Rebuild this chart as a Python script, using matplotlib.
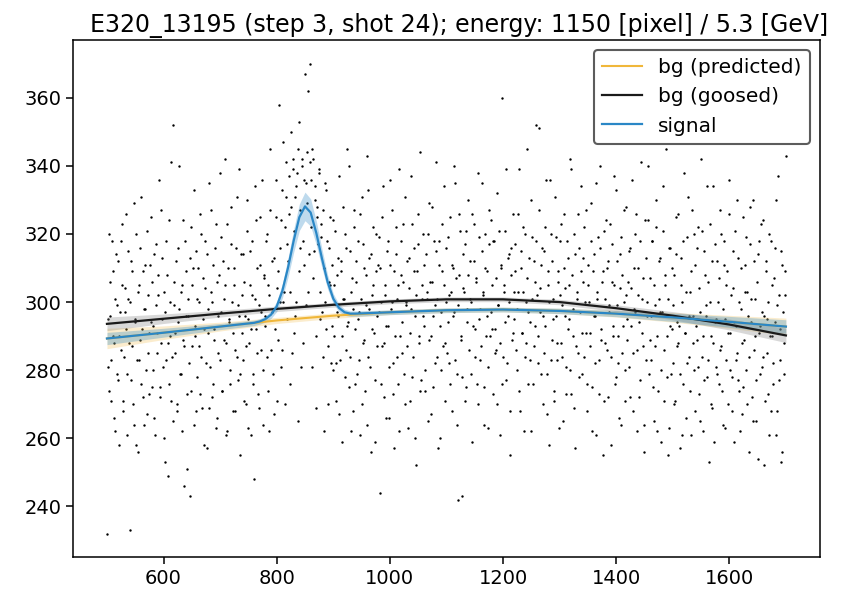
import numpy as np
import matplotlib
matplotlib.use("Agg")
import matplotlib.pyplot as plt

TITLE = "E320_13195 (step 3, shot 24); energy: 1150 [pixel] / 5.3 [GeV]"

# scatter: one point per pixel, even pixels 500..1700 and odd pixels 501..1699
x_even = np.arange(500, 1701, 2)
y_even = [
    232, 281, 320, 296, 271, 309, 288, 262, 314, 299, 277, 290, 318, 305, 268, 284, 297, 326, 279, 301,
    233, 312, 287, 270, 329, 295, 258, 303, 283, 316, 276, 292, 309, 264, 298, 321, 285, 273, 311, 294,
    306, 280, 266, 317, 291, 302, 336, 275, 288, 313, 260, 297, 283, 308, 249, 324, 290, 271, 352, 299,
    285, 312, 268, 294, 340, 279, 305, 289, 246, 318, 296, 273, 301, 243, 322, 287, 310, 264, 293, 315,
    278, 300, 326, 284, 269, 307, 292, 318, 257, 298, 335, 281, 303, 272, 311, 289, 323, 266, 296, 308,
    283, 319, 274, 301, 342, 288, 262, 310, 295, 276, 328, 291, 305, 268, 316, 284, 299, 339, 279, 302,
    314, 271, 296, 287, 330, 263, 305, 292, 318, 276, 248, 301, 324, 285, 269, 311, 297, 336, 280, 308,
    293, 320, 274, 302, 345, 286, 312, 298, 267, 325, 304, 289, 358, 316, 281, 333, 300, 322, 341, 295,
    312, 337, 276, 328, 342, 291, 331, 300, 338, 265, 353, 316, 340, 288, 311, 367, 335, 344, 303, 370,
    336, 281, 342, 315, 330, 269, 325, 338, 303, 319, 297, 327, 262, 300, 333, 287, 316, 305, 282, 311,
    324, 290, 271, 308, 296, 337, 283, 312, 259, 301, 320, 286, 345, 294, 275, 315, 303, 268, 327, 292,
    306, 279, 318, 297, 261, 331, 288, 310, 274, 299, 343, 284, 313, 256, 302, 322, 291, 277, 309, 296,
    319, 244, 300, 287, 334, 272, 305, 293, 318, 266, 311, 298, 327, 282, 257, 314, 301, 276, 339, 290,
    308, 285, 323, 270, 299, 312, 263, 304, 291, 337, 278, 316, 296, 252, 309, 326, 288, 274, 301, 320,
    293, 280, 314, 301, 265, 329, 290, 306, 275, 318, 299, 341, 284, 311, 260, 297, 323, 287, 305, 271,
    316, 294, 282, 325, 303, 268, 310, 297, 335, 279, 242, 308, 321, 289, 243, 304, 317, 275, 298, 330,
    286, 312, 300, 259, 323, 292, 307, 276, 338, 295, 283, 315, 302, 264, 320, 290, 309, 281, 327, 297,
    305, 273, 318, 292, 286, 332, 299, 261, 311, 360, 284, 303, 321, 277, 296, 314, 255, 308, 289, 326,
    295, 317, 280, 303, 339, 268, 310, 291, 322, 284, 300, 345, 276, 313, 294, 262, 319, 287, 306, 352,
    302, 282, 327, 297, 311, 270, 315, 293, 336, 279, 305, 258, 320, 289, 301, 274, 331, 296, 283, 309,
    318, 288, 299, 265, 326, 304, 281, 313, 295, 342, 273, 308, 290, 320, 257, 301, 285, 316, 297, 334,
    279, 306, 322, 291, 268, 311, 300, 287, 329, 275, 314, 296, 261, 303, 319, 283, 340, 292, 309, 271,
    301, 324, 286, 312, 297, 258, 317, 290, 305, 276, 333, 299, 282, 314, 264, 308, 293, 327, 280, 302,
    289, 315, 272, 304, 336, 285, 298, 320, 262, 310, 294, 277, 341, 301, 287, 256, 313, 296, 324, 279,
    307, 283, 318, 265, 299, 330, 290, 274, 312, 297, 259, 321, 286, 305, 345, 278, 301, 263, 316, 292,
    282, 308, 271, 325, 294, 288, 257, 313, 300, 276, 338, 291, 266, 319, 284, 303, 261, 327, 296, 280,
    311, 289, 322, 273, 297, 342, 284, 262, 315, 299, 278, 306, 253, 323, 290, 269, 334, 294, 281, 312,
    300, 276, 327, 287, 264, 318, 295, 283, 309, 270, 336, 291, 278, 304, 259, 321, 293, 285, 313, 274,
    298, 267, 325, 289, 311, 280, 303, 256, 317, 294, 272, 330, 286, 301, 265, 314, 291, 279, 323, 297,
    284, 252, 309, 295, 273, 320, 290, 268, 305, 282, 316, 261, 299, 337, 277, 292, 253, 311, 288, 302,
    343,
]
x_odd = np.arange(501, 1700, 2)
y_odd = [
    295, 274, 306, 283, 318, 290, 266, 301, 279, 312, 258, 297, 286, 323, 271, 304, 292, 261, 315, 288,
    300, 277, 309, 264, 294, 320, 283, 256, 305, 289, 331, 272, 298, 311, 280, 267, 302, 291, 325, 275,
    293, 314, 261, 299, 285, 308, 272, 327, 295, 281, 303, 253, 318, 288, 276, 300, 341, 284, 265, 306,
    291, 270, 316, 298, 279, 303, 262, 324, 287, 309, 251, 296, 282, 313, 274, 305, 333, 290, 268, 301,
    310, 287, 273, 320, 295, 258, 304, 282, 314, 291, 269, 327, 300, 276, 292, 316, 263, 306, 285, 338,
    297, 274, 312, 289, 305, 261, 323, 294, 280, 317, 300, 268, 310, 286, 331, 277, 296, 255, 314, 291,
    283, 306, 270, 321, 295, 288, 315, 261, 302, 279, 334, 292, 310, 273, 299, 325, 286, 264, 307, 296,
    318, 284, 305, 262, 327, 297, 279, 313, 292, 336, 271, 309, 300, 324, 286, 347, 303, 270, 331, 317,
    326, 303, 350, 285, 339, 321, 296, 334, 345, 309, 327, 281, 342, 318, 336, 299, 329, 362, 314, 341,
    322, 345, 307, 334, 290, 328, 317, 339, 295, 323, 284, 310, 335, 292, 318, 270, 306, 325, 293, 280,
    305, 321, 282, 297, 313, 267, 309, 290, 328, 301, 278, 316, 293, 340, 284, 262, 307, 298, 322, 276,
    312, 295, 283, 326, 301, 270, 317, 289, 308, 264, 333, 298, 281, 314, 292, 305, 259, 320, 287, 311,
    297, 310, 276, 325, 288, 302, 266, 315, 293, 281, 336, 300, 273, 309, 290, 322, 284, 305, 262, 318,
    294, 306, 279, 331, 300, 287, 313, 271, 298, 323, 284, 309, 260, 302, 317, 290, 344, 277, 305, 296,
    311, 274, 303, 320, 289, 306, 267, 328, 296, 282, 315, 301, 257, 318, 293, 280, 309, 334, 288, 300,
    285, 319, 302, 276, 311, 296, 340, 283, 307, 264, 299, 326, 290, 278, 314, 303, 271, 321, 294, 308,
    301, 279, 326, 293, 312, 284, 306, 270, 319, 298, 287, 335, 303, 275, 310, 296, 263, 317, 290, 324,
    292, 318, 285, 307, 270, 299, 321, 288, 310, 276, 305, 294, 339, 282, 313, 300, 268, 316, 291, 303,
    309, 286, 298, 326, 274, 315, 291, 303, 262, 320, 288, 307, 297, 283, 330, 301, 276, 312, 293, 318,
    290, 351, 304, 279, 316, 296, 285, 322, 267, 309, 300, 336, 283, 312, 295, 271, 319, 288, 306, 263,
    302, 323, 284, 310, 296, 273, 318, 292, 305, 280, 339, 298, 269, 314, 287, 303, 326, 278, 309, 291,
    313, 284, 300, 327, 276, 305, 291, 318, 262, 309, 296, 282, 335, 301, 273, 316, 289, 306, 255, 321,
    288, 310, 272, 299, 323, 284, 306, 293, 337, 278, 312, 290, 266, 304, 319, 285, 300, 271, 328, 295,
    306, 281, 316, 293, 268, 310, 297, 326, 286, 302, 272, 318, 291, 307, 264, 324, 283, 300, 340, 289,
    296, 318, 275, 305, 287, 322, 262, 301, 313, 280, 297, 334, 271, 308, 290, 255, 316, 293, 279, 310,
    299, 270, 314, 287, 326, 293, 279, 305, 261, 318, 291, 303, 282, 331, 296, 274, 309, 288, 320, 268,
    293, 316, 281, 304, 265, 321, 290, 277, 308, 296, 334, 283, 300, 270, 312, 288, 259, 317, 295, 279,
    307, 286, 320, 274, 298, 311, 263, 305, 291, 326, 280, 302, 268, 315, 294, 283, 330, 277, 300, 262,
    310, 288, 275, 303, 319, 270, 296, 284, 328, 301, 265, 312, 290, 277, 306, 254, 318, 293, 281, 324,
    296, 271, 312, 285, 300, 261, 318, 290, 276, 307, 294, 330, 268, 302, 283, 315, 256, 297, 279, 309,
]

# background fits
bg_x = [500, 600, 700, 800, 900, 1000, 1100, 1200, 1300, 1400, 1500, 1600, 1700]
bg_pred = [289.3, 291.0, 292.8, 294.6, 296.0, 297.0, 297.6, 297.8, 297.4, 296.6, 295.5, 294.2, 292.8]
bg_pred_err = [3.0, 2.0, 1.3, 0.9, 0.8, 0.7, 0.7, 0.7, 0.8, 1.0, 1.4, 1.9, 2.5]
bg_goose = [293.6, 295.1, 296.6, 298.0, 299.2, 300.2, 300.8, 300.8, 300.0, 298.2, 296.0, 293.4, 290.2]
bg_goose_err = [2.0, 1.4, 1.0, 0.8, 0.7, 0.7, 0.7, 0.7, 0.8, 1.0, 1.2, 1.6, 2.1]

# signal fit (bg + peak near 850)
sig_x = [500, 600, 700, 760, 770, 780, 790, 800, 810, 820, 830, 840, 850, 860, 870, 880,
         890, 900, 910, 920, 930, 940, 1000, 1100, 1200, 1300, 1400, 1500, 1600, 1700]
sig_y = [289.3, 291.0, 292.8, 293.9, 294.3, 295.0, 296.3, 298.7, 303.3, 310.1, 318.0, 324.9, 328.1,
         326.3, 320.3, 312.8, 305.9, 301.0, 298.3, 297.0, 296.6, 296.6, 297.0, 297.6, 297.8, 297.4,
         296.6, 295.5, 294.2, 292.8]
sig_err = [1.8, 1.3, 0.9, 0.8, 0.8, 0.9, 1.1, 1.5, 2.1, 2.8, 3.4, 3.9, 4.2, 4.0, 3.5, 2.8,
           2.1, 1.5, 1.1, 0.9, 0.8, 0.8, 0.7, 0.7, 0.7, 0.8, 0.9, 1.2, 1.6, 2.0]


def band(ax, x, y, err, color, alpha):
    y = np.asarray(y)
    err = np.asarray(err)
    ax.fill_between(x, y - err, y + err, color=color, alpha=alpha, lw=0)


def main():
    plt.rcParams["font.size"] = 14
    fig = plt.figure(figsize=(8.54, 5.92), dpi=100)
    ax = fig.add_axes([0.0855, 0.059, 0.8745, 0.873])

    xs = np.concatenate([x_even, x_odd])
    ys = np.concatenate([y_even, y_odd])
    ax.scatter(xs, ys, s=3, c="black", lw=0, zorder=1)

    c_pred = "#f0b73a"
    c_sig = "#2a87c6"
    band(ax, bg_x, bg_pred, bg_pred_err, c_pred, 0.25)
    band(ax, bg_x, bg_goose, bg_goose_err, "gray", 0.3)
    band(ax, sig_x, sig_y, sig_err, c_sig, 0.3)

    ax.plot(bg_x, bg_pred, color=c_pred, lw=1.5, label="bg (predicted)", zorder=3)
    ax.plot(bg_x, bg_goose, color="#1a1a1a", lw=1.6, label="bg (goosed)", zorder=3)
    ax.plot(sig_x, sig_y, color=c_sig, lw=1.6, label="signal", zorder=4)

    ax.tick_params(labelsize=14, width=1.1, length=5)
    for s in ax.spines.values():
        s.set_linewidth(1.1)

    ax.set_title(TITLE, fontsize=17, x=0.517)
    leg = ax.legend(loc="upper right", fontsize=14.5, framealpha=0.8)
    leg.get_frame().set_edgecolor("#333333")
    leg.get_frame().set_linewidth(1.5)

    fig.savefig("out.png", dpi=100)


main()
